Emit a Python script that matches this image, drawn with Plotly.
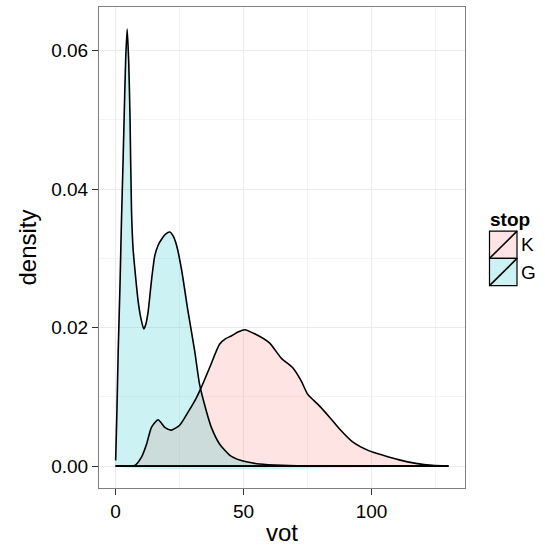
import plotly.graph_objects as go

# ---- data (vot vs. estimated density) ----
groups = ["K", "G"]

k_vot = [0, 5, 7.5, 10.1, 12.1, 14.0, 16.6, 19.2, 21.8, 25.0, 28.3, 31.6, 33.5,
         36.7, 40.6, 43.0, 45.2, 48.0, 50.4, 54.9, 60.1, 64.7, 69.2, 72.5, 75.0,
         79.6, 83.5, 87.4, 92.6, 99.1, 104.2, 110.8, 117.3, 123.7, 130]
k_density = [0, 0, 0.0001, 0.0013, 0.0032, 0.0056, 0.0067, 0.0056, 0.0052, 0.0059,
             0.0078, 0.0099, 0.0114, 0.0142, 0.0176, 0.0184, 0.0188, 0.0194, 0.0197,
             0.0190, 0.0178, 0.0156, 0.0142, 0.0123, 0.0104, 0.0087, 0.0071, 0.0054,
             0.0035, 0.0022, 0.0016, 0.0009, 0.0004, 0.0001, 0]

g_vot = [0, 0.5, 1.0, 1.7, 2.3, 2.9, 3.35, 3.9, 4.5, 5.1, 5.6, 6.2, 6.8, 7.5, 8.8,
         9.9, 11.0, 11.8, 12.7, 14.0, 15.3, 16.6, 18.0, 19.5, 21.2, 22.5, 23.8,
         25.7, 28.3, 30.9, 32.8, 35.4, 37.4, 40.6, 44.5, 49.1, 56.2, 65, 80, 100, 130]
g_density = [0.0008, 0.008, 0.0166, 0.0261, 0.0357, 0.0440, 0.0507, 0.0585, 0.0631,
             0.0585, 0.0507, 0.0370, 0.0315, 0.0285, 0.0238, 0.0213, 0.0198, 0.0205,
             0.0223, 0.0268, 0.0304, 0.0319, 0.0328, 0.0335, 0.0338, 0.0332, 0.0319,
             0.0285, 0.0223, 0.0166, 0.0118, 0.0080, 0.0056, 0.0032, 0.0016, 0.0008,
             0.0003, 0.0001, 0, 0, 0]

x_ticks = [0, 50, 100]
y_ticks = [0.00, 0.02, 0.04, 0.06]
y_tick_labels = ["0.00", "0.02", "0.04", "0.06"]

fills = {"K": "rgba(248,118,109,0.2)", "G": "rgba(0,191,196,0.2)"}
series = {"K": (k_vot, k_density), "G": (g_vot, g_density)}

FONT = "Liberation Sans, Arial, Helvetica, sans-serif"
W, H = 545, 548
ML, MR, MT, MB = 99, 80, 6, 57

fig = go.Figure()
for g in groups:
    xs, ys = series[g]
    # filled area (spline-smoothed curve closed along the baseline)
    fig.add_trace(go.Scatter(
        x=list(xs) + [xs[-1], xs[0], xs[0]],
        y=list(ys) + [0, 0, ys[0]],
        mode="lines", fill="toself", fillcolor=fills[g],
        line=dict(color="rgba(0,0,0,0)", width=0, shape="spline", smoothing=0.6),
        showlegend=False, hoverinfo="skip"))
for g in groups:
    xs, ys = series[g]
    # outline: baseline + smoothed curve
    fig.add_trace(go.Scatter(
        x=[xs[-1], xs[0]], y=[0, 0], mode="lines",
        line=dict(color="black", width=1.6), showlegend=False, hoverinfo="skip"))
    fig.add_trace(go.Scatter(
        x=list(xs), y=list(ys), mode="lines",
        line=dict(color="black", width=1.6, shape="spline", smoothing=0.6),
        showlegend=False, hoverinfo="skip"))

# legend drawn by hand (ggplot-style keys with a diagonal stroke)
pw, ph = W - ML - MR, H - MT - MB
def px(xp):
    return (xp - ML) / pw
def py(yp):
    return (H - MB - yp) / ph

key_x0, key_x1 = 489.5, 517
key_tops = {"K": 232, "G": 259.5}
key_h = 27.5
shapes = []
annotations = []
for g in groups:
    t = key_tops[g]
    shapes.append(dict(type="rect", xref="paper", yref="paper",
                       x0=px(key_x0), x1=px(key_x1), y0=py(t + key_h), y1=py(t),
                       fillcolor=fills[g], line=dict(color="black", width=1.2)))
    shapes.append(dict(type="line", xref="paper", yref="paper",
                       x0=px(key_x0), x1=px(key_x1), y0=py(t + key_h), y1=py(t),
                       line=dict(color="black", width=1.6)))
    annotations.append(dict(xref="paper", yref="paper", x=px(key_x1 + 2),
                            y=py(t + key_h / 2), text=g, showarrow=False,
                            xanchor="left", yanchor="middle",
                            font=dict(family=FONT, size=19, color="black")))
annotations.append(dict(xref="paper", yref="paper", x=px(488), y=py(220),
                        text="<b>stop</b>", showarrow=False, xanchor="left",
                        yanchor="middle",
                        font=dict(family=FONT, size=19, color="black")))

fig.update_layout(
    width=W, height=H, margin=dict(l=ML, r=MR, t=MT, b=MB),
    paper_bgcolor="white", plot_bgcolor="white",
    font=dict(family=FONT, color="black"),
    shapes=shapes, annotations=annotations, showlegend=False,
    xaxis=dict(range=[-6.5, 136.5], tickvals=x_ticks, ticks="outside", ticklen=6,
               tickcolor="#333333", tickfont=dict(size=19, color="black"),
               showgrid=True, gridcolor="#ebebeb", gridwidth=1.2,
               minor=dict(dtick=25, tick0=0, showgrid=True, gridcolor="#f4f4f4",
                          gridwidth=1),
               zeroline=False, showline=True, linecolor="#7f7f7f", linewidth=1,
               mirror=True,
               title=dict(text="vot", font=dict(size=24, color="black"), standoff=3)),
    yaxis=dict(range=[-0.00316, 0.0663], tickvals=y_ticks, ticktext=y_tick_labels,
               ticks="outside", ticklen=6, tickcolor="#333333",
               tickfont=dict(size=19, color="black"),
               showgrid=True, gridcolor="#ebebeb", gridwidth=1.2,
               minor=dict(dtick=0.01, tick0=0, showgrid=True, gridcolor="#f4f4f4",
                          gridwidth=1),
               zeroline=False, showline=True, linecolor="#7f7f7f", linewidth=1,
               mirror=True,
               title=dict(text="density", font=dict(size=24, color="black"), standoff=7)),
)

fig.write_html("out.html")
